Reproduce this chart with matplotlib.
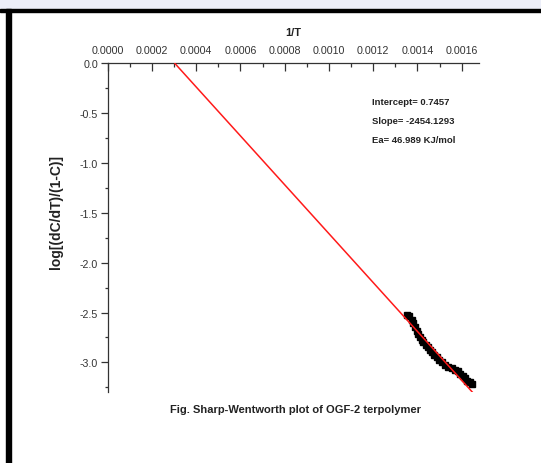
import numpy as np
import matplotlib
matplotlib.use('Agg')
import matplotlib.pyplot as plt
from matplotlib.ticker import MultipleLocator, FormatStrFormatter
from matplotlib.patches import Rectangle

plt.rcParams['font.family'] = ['Liberation Sans', 'DejaVu Sans']
plt.rcParams['axes.unicode_minus'] = False

# measured points (1/T, log[(dC/dT)/(1-C)])
inv_T = [0.001354, 0.001363, 0.001374, 0.001381, 0.001389, 0.001397, 0.001404,
         0.001412, 0.001419, 0.001427, 0.001437, 0.001446, 0.001457, 0.001467,
         0.001476, 0.001487, 0.001499, 0.001511, 0.001524, 0.001539, 0.001555,
         0.001570, 0.001582, 0.001592, 0.001604, 0.001615, 0.001625, 0.001638,
         0.001645]
log_rate = [-2.525, -2.538, -2.572, -2.606, -2.649, -2.683, -2.716,
            -2.749, -2.773, -2.793, -2.823, -2.850, -2.873, -2.900,
            -2.927, -2.950, -2.974, -3.000, -3.024, -3.044, -3.057,
            -3.074, -3.090, -3.117, -3.140, -3.160, -3.184, -3.200,
            -3.215]

# linear fit
intercept = 0.7457
slope = -2454.1293
fit_range = [0.000304, 0.00165]

notes = ['Intercept= 0.7457', 'Slope= -2454.1293', 'Ea= 46.989 KJ/mol']

fig = plt.figure(figsize=(5.41, 4.64), dpi=100)

# page decoration: faint banner + black frame lines
fig.patches.append(Rectangle((0, 1 - 10/464), 1, 10/464, transform=fig.transFigure,
                             color='#eceef8', zorder=0))
fig.patches.append(Rectangle((0, 1 - 12.5/464), 1, 3/464, transform=fig.transFigure,
                             color='black', zorder=1))
fig.patches.append(Rectangle((5.5/541, 0), 5/541, 1 - 10/464, transform=fig.transFigure,
                             color='black', zorder=1))

ax = fig.add_axes([0.1991, 0.1526, 0.8861 - 0.1991, 0.8610 - 0.1526])

fx = np.array(fit_range)
ax.plot(fx, intercept + slope * fx, color='#ff1a1a', lw=1.1, zorder=3)
ax.plot(inv_T, log_rate, 's-', color='black', ms=4.3, lw=3.2, zorder=2)

ax.set_xlim(0, 0.00168)
ax.set_ylim(-3.3, 0.0)

for s in ['right', 'bottom']:
    ax.spines[s].set_visible(False)
for s in ['left', 'top']:
    ax.spines[s].set_color('#333333')
    ax.spines[s].set_linewidth(0.9)

ax.xaxis.set_ticks_position('top')
ax.xaxis.set_label_position('top')
ax.xaxis.set_major_locator(MultipleLocator(0.0002))
ax.xaxis.set_minor_locator(MultipleLocator(0.0001))
ax.xaxis.set_major_formatter(FormatStrFormatter('%.4f'))
ax.yaxis.set_major_locator(MultipleLocator(0.5))
ax.yaxis.set_minor_locator(MultipleLocator(0.25))
ax.yaxis.set_major_formatter(FormatStrFormatter('%.1f'))

ax.tick_params(axis='x', which='major', direction='in', length=5.5, width=0.9,
               color='#333333', labelsize=7.7, pad=6, labelcolor='#333333')
ax.tick_params(axis='x', which='minor', direction='in', length=3, width=0.9, color='#333333')
ax.tick_params(axis='y', which='major', direction='out', length=4.8, width=0.9,
               color='#333333', labelsize=7.7, pad=2, labelcolor='#333333')
ax.tick_params(axis='y', which='minor', direction='out', length=2.5, width=0.9, color='#333333')

ax.set_xlabel('1/T', fontsize=8, fontweight='bold', labelpad=7, color='#222222')
ax.set_ylabel('log[(dC/dT)/(1-C)]', fontsize=10, fontweight='bold', color='#222222')
ax.yaxis.set_label_coords((63.3 - 107.7) / (479.4 - 107.7), 0.55)

for i, t in enumerate(notes):
    ax.text(372.3/541, 1 - (102.7 + 18.7*i)/464, t, transform=fig.transFigure,
            fontsize=6.8, fontweight='bold', color='#222222', va='center', ha='left')

fig.text(295/541, 1 - 410/464, 'Fig. Sharp-Wentworth plot of OGF-2 terpolymer',
         fontsize=8, fontweight='bold', color='#222222', ha='center', va='center')

fig.savefig('out.png', dpi=100)
